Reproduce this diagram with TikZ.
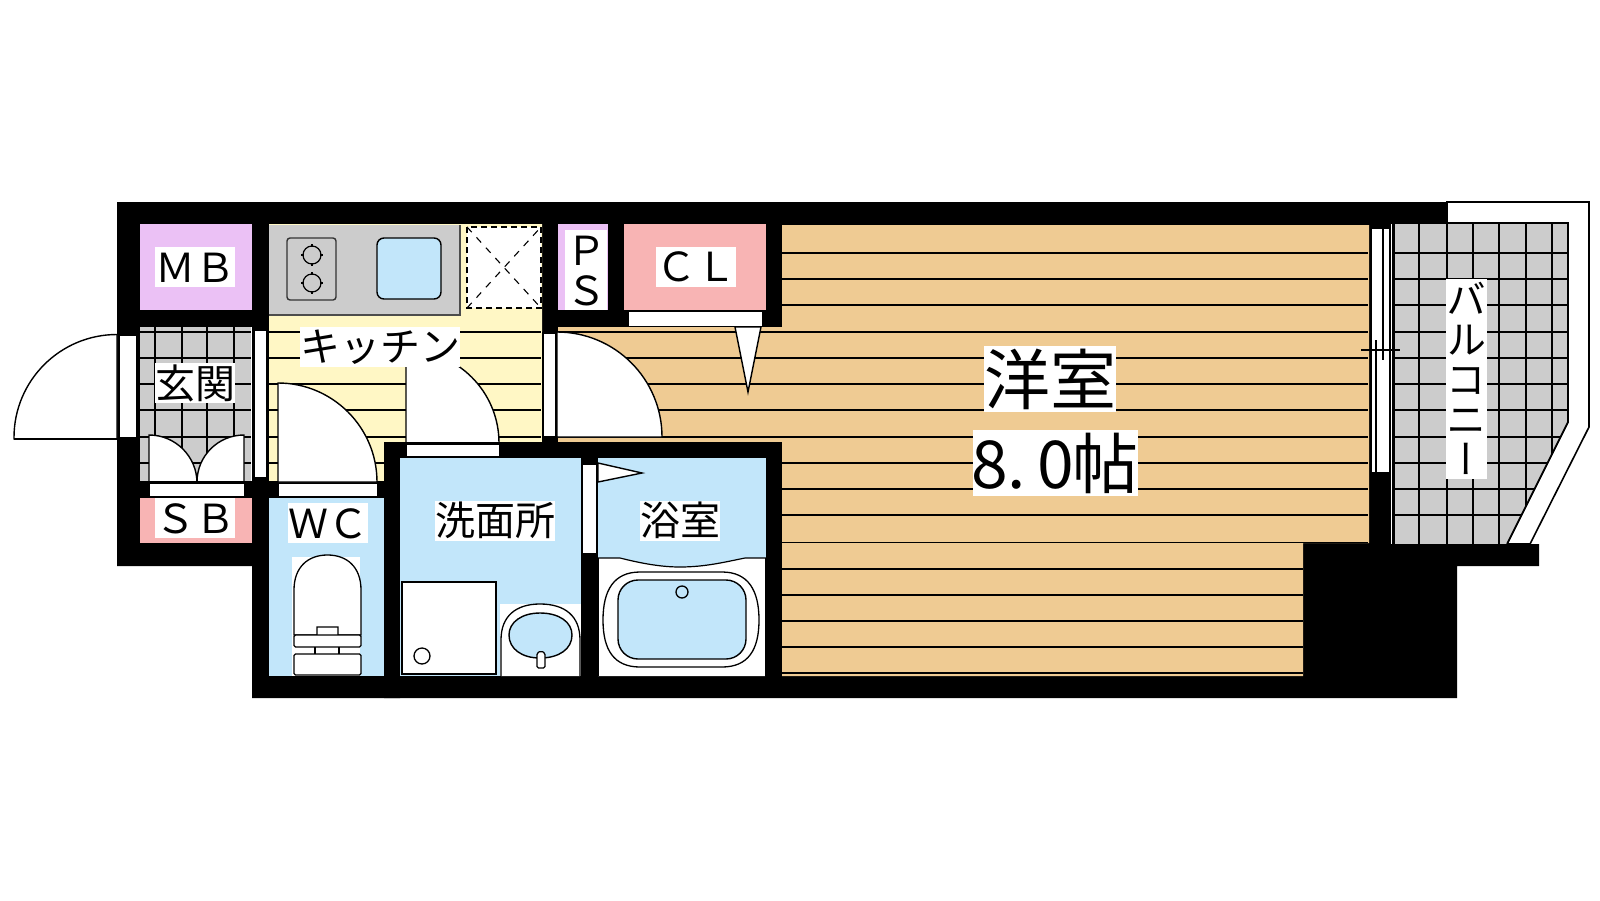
\documentclass[tikz,border=0pt]{standalone}
\usepackage{fontspec}
\newfontfamily\cjk{Noto Sans CJK JP}
\newfontfamily\cjkv[RawFeature={+vert}]{Noto Sans CJK JP}
\definecolor{cPurple}{HTML}{EBC1F5}
\definecolor{cPink}{HTML}{F8B4B4}
\definecolor{cBlue}{HTML}{C2E6FA}
\definecolor{cTan}{HTML}{EFCB93}
\definecolor{cYellow}{HTML}{FFF7C5}
\definecolor{cGray}{HTML}{CCCCCC}
\newcommand{\hw}[1]{\makebox[33pt]{#1}}
\newcommand{\vs}{\rule[-5pt]{0pt}{40pt}}
\tikzset{
  wall/.style={fill=black,draw=none},
  floorline/.style={line width=1.7pt,black},
  gridline/.style={line width=1.5pt,black},
  fixture/.style={draw=black,line width=1.4pt,fill=white},
  thinfix/.style={draw=black,line width=1pt,fill=white},
  lab/.style={fill=white,inner sep=0pt,text=black,font=\cjk\fontsize{40pt}{40pt}\selectfont,text height=35pt,text depth=5pt,align=center},
  biglab/.style={fill=white,inner sep=0pt,text=black,font=\cjk\fontsize{66pt}{66pt}\selectfont,text height=58pt,text depth=8pt,align=center},
  vlab/.style={fill=white,inner sep=0pt,text=black,align=center},
}
\begin{document}
\begin{tikzpicture}[x=1pt,y=-1pt]
\useasboundingbox (0,0) rectangle (1600,900);
\fill[white] (0,0) rectangle (1600,900);
% balcony rail (white band)
\draw[thinfix,line width=1.6pt] (1447,202) -- (1589,202) -- (1589,427) -- (1530,544) -- (1507,544) -- (1568,422) -- (1568,223) -- (1447,223) -- cycle;
% walls
\fill[wall] (117,202) -- (1447,202) -- (1447,223) -- (1393,223) -- (1393,544) -- (1539,544) -- (1539,566) -- (1457,566) -- (1457,698) -- (252,698) -- (252,566) -- (117,566) -- cycle;
% balcony floor
\begin{scope}
\clip (1393,223) -- (1568,223) -- (1568,422) -- (1507,544) -- (1393,544) -- cycle;
\fill[cGray] (1393,223) rectangle (1568,544);
\foreach \x in {1394,1419,1447,1473,1499,1526,1552} \draw[gridline] (\x,223) -- (\x,544);
\foreach \y in {253,279,305,332,358,384,410,437,463,489,515} \draw[gridline] (1393,\y) -- (1568,\y);
\end{scope}
\draw[line width=1.7pt] (1393,223) -- (1568,223) -- (1568,422) -- (1507,544);
\draw[white,line width=.8pt] (1391.5,224) -- (1391.5,544);
% western room
\fill[cTan] (782,225) -- (1369,225) -- (1369,543) -- (1303,543) -- (1303,676) -- (782,676) -- (782,442) -- (558,442) -- (558,327) -- (782,327) -- cycle;
\foreach \y in {253,279,305} \draw[floorline] (782,\y) -- (1368,\y);
\foreach \y in {332,358,384,410,437} \draw[floorline] (558,\y) -- (1368,\y);
\foreach \y in {463,489,515} \draw[floorline] (782,\y) -- (1368,\y);
\draw[floorline] (782,542.5) -- (1368,542.5);
\foreach \y in {569,595,621,647,673} \draw[floorline] (782,\y) -- (1303,\y);
% balcony door
\fill[white] (1371,229) rectangle (1390,472);
\draw[line width=1.3pt] (1371,229) -- (1371,472);
\draw[line width=1.3pt] (1376,340) -- (1376,472);
\draw[line width=1.3pt] (1383,229) -- (1383,360);
\draw[line width=1.3pt] (1389.5,229) -- (1389.5,472);
\draw[line width=1.3pt] (1361,350) -- (1400,350);
% kitchen
\fill[cYellow] (269,224) -- (542,224) -- (542,442) -- (384,442) -- (384,481) -- (269,481) -- cycle;
\foreach \y in {332,358,384,410,437} \draw[floorline] (269,\y) -- (541,\y);
\draw[floorline] (269,463) -- (384,463);
\fill[cGray] (269,225) rectangle (460,315);
\draw[line width=1.3pt,draw=black!70] (269,315) -- (460,315) -- (460,225);
\draw[fixture,fill=cGray,rounded corners=3pt,draw=black!80] (287,238) rectangle (336,300);
\foreach \y [count=\i] in {255,283} {
  \draw[line width=1.2pt] (312,\y) circle[radius=9pt];
  \draw[line width=1.2pt] (312,\y-11) -- (312,\y-8) (312,\y+8) -- (312,\y+11) (301,\y) -- (304,\y) (320,\y) -- (323,\y);
}
\draw[fixture,fill=cBlue,rounded corners=7pt] (377,238) rectangle (441,299);
% refrigerator space
\fill[white] (467,227) rectangle (541,308);
\draw[line width=1.5pt,dash pattern=on 6pt off 4pt] (467,227) rectangle (541,308);
\draw[dash pattern=on 7pt off 7pt,line width=1.1pt] (467,227) -- (541,308) (467,308) -- (541,227);
% genkan
\fill[cGray] (140,327) rectangle (252,481);
\foreach \x in {155,182,207,234} \draw[gridline] (\x,327) -- (\x,481);
\foreach \y in {332,358,384,410,437,463} \draw[gridline] (140,\y) -- (251,\y);
\draw[white,line width=.8pt] (251.5,327) -- (251.5,481);
% entrance door
\draw[thinfix,line width=1.3pt] (119,335) rectangle (137,438);
\draw[fixture] (117,334.5) arc (90:180:103pt) -- (14,439) -- (117,439) -- cycle;
\draw[line width=1.3pt] (14,439) -- (137,439);
% shoe box doors
\draw[fixture] (149,435) arc (90:0:48pt) -- (149,483) -- cycle;
\draw[fixture] (244,435) arc (90:180:47pt) -- (244,482) -- cycle;
\fill[wall] (140,481) rectangle (252,498);
\draw[thinfix] (149,483) rectangle (244,496);
% sliding door to kitchen
\draw[thinfix,line width=1.1pt] (254,330) rectangle (267,478);
% MB, PS, CL
\fill[cPurple] (140,224) rectangle (252,310);
\fill[cPink] (140,498) rectangle (252,543);
\fill[cPurple] (558,224) rectangle (608,310);
\fill[cPink] (624,224) rectangle (766,310);
\draw[thinfix,line width=.8pt,draw=white] (629,312) rectangle (761,325);
\draw[fixture] (735,327) -- (761,327) -- (748,392) -- cycle;
% kitchen door / wash room door
\draw[fixture] (406,350) arc (90:0:93pt) -- (406,443) -- cycle;
% walls of the wash room
\fill[wall] (384,442) -- (558,442) -- (558,458) -- (400,458) -- (400,698) -- (384,698) -- cycle;
\fill[wall] (252,481) rectangle (278,498);
\fill[wall] (377,481) rectangle (384,498);
\draw[thinfix] (406,444) rectangle (499,456);
% western room door
\draw[thinfix,line width=1.2pt] (543,333) rectangle (556,437);
\draw[fixture] (557,332) arc (90:0:105pt) -- (557,437) -- cycle;
\fill[wall] (558,442) rectangle (782,458);
\fill[wall] (542,438) rectangle (558,458);
% WC door
\draw[fixture] (278,383) arc (90:0:99pt) -- (278,482) -- cycle;
\draw[thinfix] (278,483) rectangle (377,496);
% WC
\fill[cBlue] (269,498) rectangle (384,676);
\fill[white] (292,557) rectangle (360,676);
\draw[thinfix,line width=1.3pt] (294,635) -- (294,590) .. controls (294,567) and (308,555) .. (327.5,555) .. controls (347,555) and (361,567) .. (361,590) -- (361,635) -- (338,635) -- (338,627) -- (317,627) -- (317,635) -- cycle;
\draw[thinfix,line width=1.3pt,rounded corners=1.5pt] (294,635) rectangle (361,647);
\draw[line width=1.3pt] (315,647) -- (315,654) (339,647) -- (339,654);
\draw[thinfix,line width=1.3pt,rounded corners=1.5pt] (294,654) rectangle (361,675);
% wash room
\fill[cBlue] (400,458) rectangle (581,676);
\draw[thinfix,line width=1.3pt] (402,582) rectangle (496,674);
\draw[thinfix,line width=1.3pt] (422,656) circle[radius=8pt];
\fill[white] (500,604) rectangle (581,676);
\draw[thinfix,line width=1.3pt] (501,676) -- (501,640) .. controls (501,616) and (516,604) .. (540,604) .. controls (565,604) and (580,616) .. (580,640) -- (580,676);
\draw[fixture,fill=cBlue] (509,635) .. controls (509,622) and (522,613) .. (540,613) .. controls (559,613) and (572,622) .. (572,635) .. controls (572,649) and (559,658) .. (540,658) .. controls (522,658) and (509,649) .. (509,635) -- cycle;
\draw[thinfix,line width=1.3pt,rounded corners=1.5pt] (537,668) -- (537,653) -- (541,651) -- (545,653) -- (545,668) -- cycle;
% bath
\fill[cBlue] (598,458) rectangle (766,676);
\fill[white] (598,558) -- (620,558) .. controls (640,563) and (660,567) .. (680,567) .. controls (705,567) and (725,562) .. (745,558) -- (765,558) -- (765,676) -- (598,676) -- cycle;
\draw[line width=1.2pt] (598,558) -- (620,558) .. controls (640,563) and (660,567) .. (680,567) .. controls (705,567) and (725,562) .. (745,558) -- (766,558);
\draw[line width=1pt] (765,558) -- (765,676) (598,558) -- (598,676);
\draw[thinfix,line width=1.3pt] (640,572) -- (722,572) .. controls (748,572) and (759,590) .. (759,620) .. controls (759,650) and (748,667) .. (722,667) -- (640,667) .. controls (614,667) and (603,650) .. (603,620) .. controls (603,590) and (614,572) .. (640,572) -- cycle;
\draw[fixture,fill=cBlue,rounded corners=20pt] (618,580) rectangle (746,659);
\draw[line width=1.3pt] (682,592) circle[radius=6pt];
% bath door
\fill[white] (583,465) rectangle (596,553);
\draw[line width=1pt] (596.5,465) -- (596.5,553);
\draw[fixture] (598,463) -- (642,473) -- (598,482) -- cycle;
% labels
\node (mb)  [lab] at (195,267) {ＭＢ};
\node (sb)  [lab] at (195,518) {ＳＢ};
\node (gk)  [lab] at (195,383) {玄関};
\node (wc)  [lab] at (328,523) {ＷＣ};
\node (kit) [lab] at (380,346.5) {キッチン};
\node (sen) [lab] at (495,520.5) {洗面所};
\node (yok) [lab] at (680,520.5) {浴室};
\node (cl)  [lab] at (696,266.5) {ＣＬ};
\node (ps)  [vlab,minimum width=42pt,font=\cjk\fontsize{40pt}{40pt}\selectfont] at (586,270) {\vs Ｐ\\\vs Ｓ};
\node (bal) [vlab,minimum width=41pt,font=\cjkv\fontsize{40pt}{40pt}\selectfont] at (1466.5,379) {\vs バ\\\vs ル\\\vs コ\\\vs ニ\\\vs ー};
\node (you) [biglab] at (1050,379) {洋室};
\node (sz)  [biglab] at (1055.5,463) {\hw{8}\makebox[33pt][l]{\hspace{1pt}.}\hw{0}帖};
\end{tikzpicture}
\end{document}
